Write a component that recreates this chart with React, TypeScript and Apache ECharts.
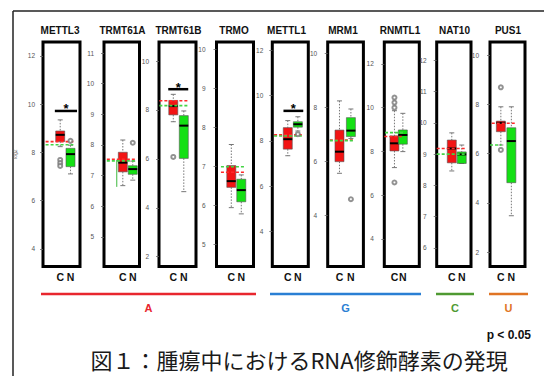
import React, { useEffect, useRef } from 'react';
import * as echarts from 'echarts';

// ---------- data ----------
const genes = ['METTL3', 'TRMT61A', 'TRMT61B', 'TRMO', 'METTL1', 'MRM1', 'RNMTL1', 'NAT10', 'PUS1'];
// box stats: [lower whisker, Q1, median, Q3, upper whisker]
const cancerStats = [
  [8.24, 8.45, 8.73, 8.89, 9.35],
  [6.67, 7.12, 7.42, 7.76, 8.16],
  [7.52, 7.8, 8.16, 8.39, 8.64],
  [5.94, 6.46, 6.62, 7.02, 7.56],
  [7.35, 7.64, 8.08, 8.59, 8.9],
  [5.57, 6.0, 6.37, 7.17, 8.25],
  [7.26, 8.02, 8.37, 8.71, 9.86],
  [8.46, 8.72, 9.18, 9.45, 9.68],
  [6.35, 6.89, 7.25, 7.32, 7.9],
];
const normalStats = [
  [7.11, 7.41, 7.93, 8.17, 8.3],
  [6.85, 7.04, 7.21, 7.32, 7.47],
  [4.66, 6.02, 7.36, 7.77, 7.96],
  [5.78, 6.09, 6.39, 6.67, 6.78],
  [8.44, 8.61, 8.74, 8.85, 9.07],
  [6.86, 6.93, 7.15, 7.63, 7.95],
  [7.99, 8.33, 8.75, 8.98, 9.74],
  [8.7, 8.7, 8.99, 9.07, 9.29],
  [3.48, 4.82, 6.51, 7.05, 7.9],
];
const cancerOutliers = [[7.69, 7.56, 7.44], [], [6.08], [], [], [], [10.46, 10.23, 10.0, 6.58], [], [8.69, 6.15]];
const normalOutliers = [[8.48], [8.07], [], [], [8.3], [4.61], [], [], []];
const cancerRef = [8.45, 7.53, 8.38, 6.85, 8.27, 6.8, 8.68, 9.18, 7.23];
const normalRef = [8.32, 7.48, 8.18, 6.99, 8.22, 6.78, 8.86, 9.0, 6.35];
const normalStray: (number[] | null)[] = [null, [7.51, 6.63], null, null, null, null, null, null, null];
const sigBar: (number | null)[] = [9.72, null, 8.85, null, 9.33, null, null, null, null];
const yTicks = [
  [4, 6, 8, 10, 12],
  [5, 6, 7, 8, 9, 10, 11],
  [2, 4, 6, 8, 10],
  [5, 6, 7, 8, 9, 10],
  [4, 6, 8, 10, 12],
  [4, 6, 8, 10],
  [4, 6, 8, 10, 12],
  [6, 7, 8, 9, 10, 11, 12],
  [2, 4, 6, 8, 10],
];
const yMin = [3.27, 4.03, 1.6, 4.43, 2.46, 2.12, 2.74, 5.4, 1.42];
const yMax = [12.58, 11.36, 10.78, 10.19, 12.37, 10.43, 13.0, 12.59, 10.53];
const groups = ['A', 'G', 'C', 'U'];
const groupColors = ['#e8262e', '#2a7fd4', '#4f9a32', '#e07424'];

// ---------- layout ----------
const frameLeft = [43, 104, 159, 216.5, 272.3, 327.7, 384.3, 436.7, 490];
const frameWidth = [37, 35.5, 37, 37, 36, 35.7, 35, 34.3, 35];
const axisOffset = [2, 4, 4, 5, 3, 4.5, 4.5, 4, 5];
const titleX = [60, 122.5, 178.5, 234, 286.5, 343, 400, 454.5, 508];
const boxPos = [[0.465, 0.743], [0.53, 0.81], [0.386, 0.67], [0.4, 0.67], [0.43, 0.71], [0.33, 0.65], [0.29, 0.53], [0.44, 0.73], [0.31, 0.61]];
const redSpan = [[0.07, 0.82], [0.08, 0.92], [0.01, 0.78], [0.12, 0.79], [0.05, 0.82], [0.06, 0.72], [0.0, 0.5], [0.0, 0.87], [0.05, 0.76]];
const greenSpan = [[0.07, 0.82], [0.08, 0.92], [0.01, 0.78], [0.12, 0.79], [0.05, 0.82], [0.06, 0.72], [0.02, 0.54], [0.0, 0.87], [0.0, 0.33]];
const straySpanX = [0, 0.36, 0, 0, 0, 0, 0, 0, 0];
const sigSpan = [[0.32, 0.92], null, [0.25, 0.79], null, [0.31, 0.86], null, null, null, null];
const groupSpan = [[41, 256], [270, 421], [436, 474], [489, 528]];
const FRAME_TOP = 42;
const FRAME_H = 224.5;

const RED = '#f21414';
const GREEN = '#14e014';
const FONT = 'Liberation Sans, Arial, sans-serif';

function renderBox(params: any, api: any) {
  const x = api.value(0);
  const lo = api.coord([x, api.value(1)]);
  const q1 = api.coord([x, api.value(2)]);
  const med = api.coord([x, api.value(3)]);
  const q3 = api.coord([x, api.value(4)]);
  const hi = api.coord([x, api.value(5)]);
  const cx = lo[0];
  const hw = 4.5;
  const fill = api.value(6) === 0 ? RED : GREEN;
  const dotted = { stroke: '#777', lineWidth: 1, lineDash: [1.5, 1.5] };
  const solid = { stroke: '#777', lineWidth: 1 };
  return {
    type: 'group',
    children: [
      { type: 'line', shape: { x1: cx, y1: hi[1], x2: cx, y2: q3[1] }, style: dotted },
      { type: 'line', shape: { x1: cx, y1: q1[1], x2: cx, y2: lo[1] }, style: dotted },
      { type: 'line', shape: { x1: cx - 2.5, y1: hi[1], x2: cx + 2.5, y2: hi[1] }, style: solid },
      { type: 'line', shape: { x1: cx - 2.5, y1: lo[1], x2: cx + 2.5, y2: lo[1] }, style: solid },
      { type: 'rect', shape: { x: cx - hw, y: q3[1], width: hw * 2, height: Math.max(q1[1] - q3[1], 0.5) }, style: { fill, stroke: '#555', lineWidth: 0.6 } },
      { type: 'line', shape: { x1: cx - hw, y1: med[1], x2: cx + hw, y2: med[1] }, style: { stroke: '#000', lineWidth: 2 } },
    ],
  };
}

function renderRef(params: any, api: any) {
  const kind = api.value(3);
  const v = api.value(2);
  if (kind === 2) {
    const a = api.coord([api.value(0), api.value(1)]);
    const b = api.coord([api.value(0), v]);
    return { type: 'line', shape: { x1: a[0], y1: a[1], x2: b[0], y2: b[1] }, style: { stroke: '#3cb83c', lineWidth: 1 } };
  }
  const p1 = api.coord([api.value(0), v]);
  const p2 = api.coord([api.value(1), v]);
  return {
    type: 'line',
    shape: { x1: p1[0], y1: p1[1], x2: p2[0], y2: p2[1] },
    style: { stroke: kind === 0 ? '#ff2a2a' : '#44d444', lineWidth: 1.6, lineDash: [3, 2] },
  };
}

function renderSig(params: any, api: any) {
  const p1 = api.coord([api.value(0), api.value(2)]);
  const p2 = api.coord([api.value(1), api.value(2)]);
  return {
    type: 'group',
    children: [
      { type: 'line', shape: { x1: p1[0], y1: p1[1], x2: p2[0], y2: p2[1] }, style: { stroke: '#000', lineWidth: 2.5 } },
      {
        type: 'text',
        style: {
          text: '*', x: (p1[0] + p2[0]) / 2, y: p1[1] - 2, align: 'center', verticalAlign: 'middle',
          fontSize: 13, fontWeight: 'bold', fontFamily: FONT, fill: '#000',
        },
      },
    ],
  };
}

export default function App() {
  const ref = useRef<HTMLDivElement>(null);
  useEffect(() => {
    if (!ref.current) return;
    const chart = echarts.init(ref.current, null, { renderer: 'svg' });
    const idx = genes.map((_, i) => i);

    const grid = idx.map((i) => ({
      left: frameLeft[i], top: FRAME_TOP, width: frameWidth[i], height: FRAME_H,
      show: true, borderColor: '#000', borderWidth: 3, backgroundColor: 'transparent',
      outerBoundsMode: 'none',
    }));
    const xAxis = idx.map((i) => ({
      type: 'value', gridIndex: i, min: 0, max: 1,
      axisLine: { show: false }, axisTick: { show: false }, splitLine: { show: false },
      axisLabel: {
        customValues: boxPos[i],
        formatter: (v: number) => (v < (boxPos[i][0] + boxPos[i][1]) / 2 ? 'C' : 'N'),
        fontSize: 10.5, fontWeight: 'bold', color: '#111', margin: 5, fontFamily: FONT,
      },
    }));
    const yAxis = idx.map((i) => ({
      type: 'value', gridIndex: i, min: yMin[i], max: yMax[i], position: 'left', offset: axisOffset[i],
      name: i === 0 ? 'log2' : '', nameLocation: 'middle', nameGap: 24,
      nameTextStyle: { fontSize: 5, color: '#666', fontFamily: FONT },
      axisLine: { show: false },
      axisTick: { show: true, length: 3, customValues: yTicks[i], lineStyle: { color: '#666', width: 0.8 } },
      axisLabel: { customValues: yTicks[i], fontSize: 6.5, color: '#555', margin: 6, fontFamily: FONT },
      splitLine: { show: false },
    }));

    const series: any[] = [];
    idx.forEach((i) => {
      series.push({
        type: 'custom', xAxisIndex: i, yAxisIndex: i, silent: true, z: 2,
        renderItem: renderBox,
        data: [
          [boxPos[i][0], ...cancerStats[i], 0],
          [boxPos[i][1], ...normalStats[i], 1],
        ],
      });
      const refData: number[][] = [
        [redSpan[i][0], redSpan[i][1], cancerRef[i], 0],
        [greenSpan[i][0], greenSpan[i][1], normalRef[i], 1],
      ];
      const stray = normalStray[i];
      if (stray) refData.push([straySpanX[i], stray[0], stray[1], 2]);
      series.push({
        type: 'custom', xAxisIndex: i, yAxisIndex: i, silent: true, z: 4,
        renderItem: renderRef, data: refData,
      });
      const outs = [
        ...cancerOutliers[i].map((v) => [boxPos[i][0], v]),
        ...normalOutliers[i].map((v) => [boxPos[i][1], v]),
      ];
      series.push({
        type: 'scatter', xAxisIndex: i, yAxisIndex: i, silent: true, z: 5,
        symbol: 'emptyCircle', symbolSize: 4,
        itemStyle: { color: '#777', borderWidth: 0.8 },
        data: outs,
      });
      const s = sigBar[i];
      const sp = sigSpan[i];
      if (s !== null && sp) {
        series.push({
          type: 'custom', xAxisIndex: i, yAxisIndex: i, silent: true, z: 6,
          renderItem: renderSig, data: [[sp[0], sp[1], s]],
        });
      }
    });

    const graphic: any[] = [
      { type: 'line', shape: { x1: 13, y1: 11, x2: 13, y2: 400 }, style: { stroke: '#222', lineWidth: 1.5 } },
      { type: 'line', shape: { x1: 13, y1: 11, x2: 560, y2: 11 }, style: { stroke: '#222', lineWidth: 1.5 } },
    ];
    idx.forEach((i) => {
      graphic.push({
        type: 'text', x: titleX[i], y: 30,
        style: { text: genes[i], align: 'center', verticalAlign: 'middle', fontSize: 10, fontWeight: 'bold', fontFamily: FONT, fill: '#111' },
      });
    });
    groups.forEach((g, k) => {
      const [a, b] = groupSpan[k];
      graphic.push({ type: 'line', shape: { x1: a, y1: 294, x2: b, y2: 294 }, style: { stroke: groupColors[k], lineWidth: 2.5 } });
      graphic.push({
        type: 'text', x: (a + b) / 2, y: 308,
        style: { text: g, align: 'center', verticalAlign: 'middle', fontSize: 11, fontWeight: 'bold', fontFamily: FONT, fill: groupColors[k] },
      });
    });
    graphic.push({
      type: 'text', x: 531, y: 335,
      style: { text: 'p < 0.05', align: 'right', verticalAlign: 'middle', fontSize: 12, fontWeight: 'bold', fontFamily: FONT, fill: '#111' },
    });
    graphic.push({
      type: 'text', x: 299, y: 359,
      style: { text: '図１：腫瘍中におけるRNA修飾酵素の発現', align: 'center', verticalAlign: 'middle', fontSize: 22, fontFamily: '"Noto Sans CJK JP", sans-serif', fill: '#1a1a1a' },
    });

    chart.setOption({
      animation: false,
      backgroundColor: '#fff',
      grid, xAxis, yAxis, series, graphic,
    });
    return () => chart.dispose();
  }, []);
  return <div ref={ref} style={{ position: 'fixed', left: 0, top: 0, width: 544, height: 376 }} />;
}
